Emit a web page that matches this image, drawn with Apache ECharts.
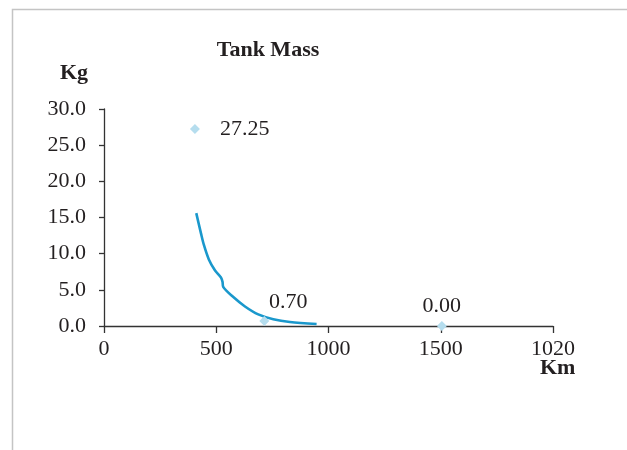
<!DOCTYPE html>
<html><head><meta charset="utf-8">
<script src="https://cdn.jsdelivr.net/npm/echarts@6/dist/echarts.min.js"></script>
<style>html,body{margin:0;padding:0;background:#fff}#c{width:627px;height:450px}</style>
</head><body><div id="c"></div>
<script>
var xTickLabels = ["0", "500", "1000", "1500", "1020"];
var pointX = [405, 714, 1505];
var pointY = [27.25, 0.70, 0.00];
var curveX = [411, 432, 445, 467, 494, 521, 528, 531, 576, 628, 687, 754, 828, 947];
var curveY = [15.6, 12.8, 11.2, 9.2, 7.7, 6.7, 6.1, 5.4, 4.0, 2.7, 1.6, 0.93, 0.55, 0.28];

var FONT = "Liberation Serif";
var TXT = '#231f20';
var labelPlacement = [
  {position: 'right', distance: 20},
  {position: 'top', offset: [24, 2]},
  {position: 'top', distance: 4}
];
var scatterData = pointX.map(function (x, i) {
  return {value: [x, pointY[i]], label: labelPlacement[i]};
});
var curveData = curveX.map(function (x, i) { return [x, curveY[i]]; });

var chart = echarts.init(document.getElementById('c'));
chart.setOption({
  backgroundColor: '#fff',
  animation: false,
  title: {text: 'Tank Mass', left: 263, top: 34, textAlign: 'center',
    textStyle: {fontFamily: FONT, fontWeight: 'bold', fontSize: 22, color: TXT}},
  grid: {left: 104, right: 74, top: 109, bottom: 124},
  xAxis: {type: 'value', min: 0, max: 2000, interval: 500,
    axisLine: {lineStyle: {color: '#333', width: 1.3}},
    axisTick: {show: true, length: 7, lineStyle: {color: '#333', width: 1.3}},
    splitLine: {show: false},
    axisLabel: {fontFamily: FONT, fontSize: 22, color: TXT, margin: 12,
      formatter: function (v) { return xTickLabels[Math.round(v / 500)]; }}
  },
  yAxis: {type: 'value', min: 0, max: 30, interval: 5,
    axisLine: {show: true, lineStyle: {color: '#333', width: 1.3}},
    axisTick: {show: true, length: 5, lineStyle: {color: '#333', width: 1.3}},
    splitLine: {show: false},
    axisLabel: {fontFamily: FONT, fontSize: 22, color: TXT, margin: 18,
      formatter: function (v) { return v.toFixed(1); }}
  },
  graphic: [
    {type: 'rect', shape: {x: 12.5, y: 9.5, width: 700, height: 600},
      style: {fill: 'none', stroke: '#c4c4c4', lineWidth: 1.5}, z: -1},
    {type: 'text', left: 60, top: 62,
      style: {text: 'Kg', font: 'bold 22px "Liberation Serif"', fill: TXT}},
    {type: 'text', left: 540, top: 357,
      style: {text: 'Km', font: 'bold 22px "Liberation Serif"', fill: TXT}}
  ],
  series: [
    {type: 'line', data: curveData, smooth: 0.3, showSymbol: false, symbol: 'none',
      lineStyle: {color: '#1a98cc', width: 2.6}, z: 2},
    {type: 'scatter', data: scatterData, symbol: 'diamond', symbolSize: 10,
      itemStyle: {color: '#b5ddee', opacity: 1}, z: 3,
      label: {show: true, fontFamily: FONT, fontSize: 22, color: TXT, opacity: 1,
        formatter: function (p) { return p.value[1].toFixed(2); }}}
  ]
});
</script></body></html>
